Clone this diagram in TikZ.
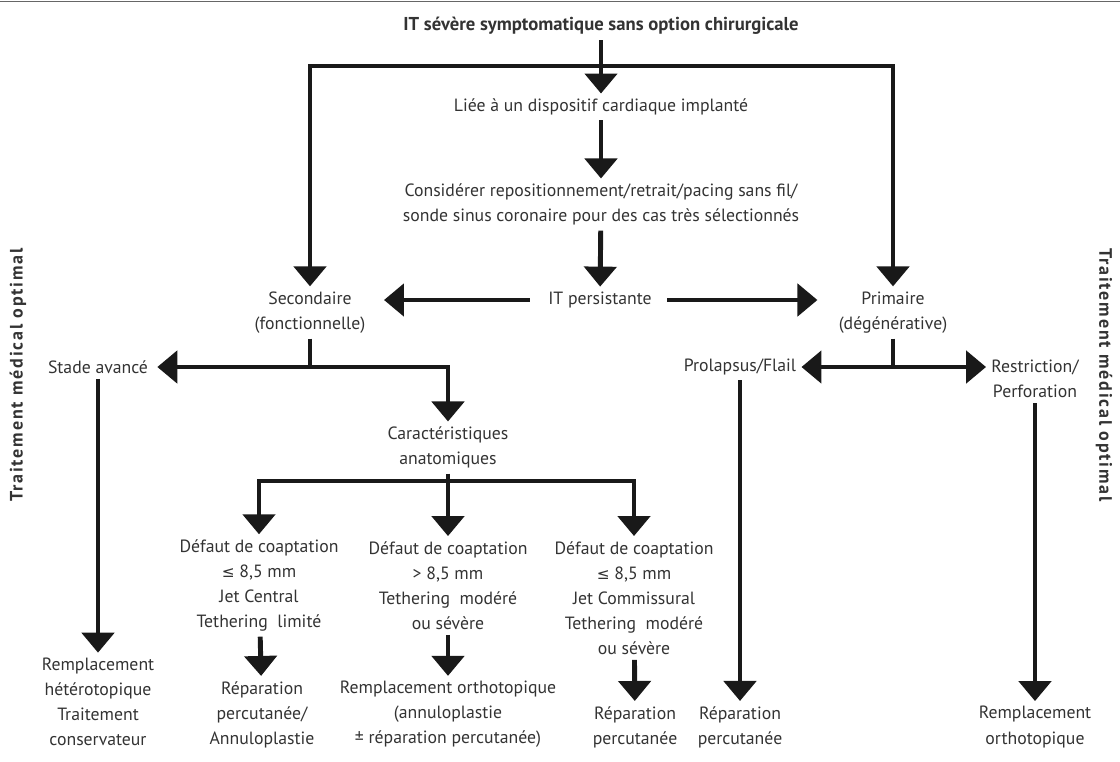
\documentclass[tikz,border=0pt]{standalone}
\usepackage{fontspec}
\setmainfont{PT Sans}
\newfontfamily\symf{DejaVu Sans}
\usetikzlibrary{arrows.meta}
\newcommand{\myle}{{\symf\fontsize{11.5}{12}\selectfont ≤}}
\begin{document}
\begin{tikzpicture}[x=0.75pt,y=-0.75pt,
  txt/.style={align=center, inner sep=0pt, outer sep=4pt, text=black!80,
    font=\fontsize{13.3}{18.8}\selectfont},
  bold/.style={txt, font=\fontsize{14}{18.8}\selectfont\bfseries},
  side/.style={txt, font=\fontsize{13.5}{18.8}\selectfont\bfseries\addfontfeature{LetterSpace=10}},
  ln/.style={line width=3.7pt, draw=black!90, line join=miter},
  arr/.style={ln, -{Triangle[width=24pt,length=15pt]}}]
\useasboundingbox (0,0) rectangle (1120,761);
\draw[black!60, line width=1.2pt] (0,1.5) -- (1120,1.5);

% nodes
\node[bold] (title) at (601,26) {IT sévère symptomatique sans option chirurgicale};
\node[txt] (liee) at (601,107) {Liée à un dispositif cardiaque implanté};
\node[txt] (cons) at (601,204.5) {Considérer repositionnement/retrait/pacing sans fil/\\sonde sinus coronaire pour des cas très sélectionnés};
\node[txt] (itp) at (600,300) {IT persistante};
\node[txt] (sec) at (310,312.5) {Secondaire\\(fonctionnelle)};
\node[txt] (prim) at (893,312.5) {Primaire\\(dégénérative)};
\node[txt] (stade) at (98,367) {Stade avancé};
\node[txt] (carac) at (448,447.5) {Caractéristiques\\anatomiques};
\node[txt] (prol) at (740,367) {Prolapsus/Flail};
\node[txt] (restr) at (1035,379) {Restriction/\\Perforation};
\node[txt] (d1) at (259,585.5) {Défaut de coaptation\\\myle\ 8,5 mm\\Jet Central\\Tethering\ \ limité};
\node[txt] (d2) at (448,585.5) {Défaut de coaptation\\> 8,5 mm\\Tethering\ \ modéré\\ou sévère};
\node[txt] (d3) at (634,598) {Défaut de coaptation\\\myle\ 8,5 mm\\Jet Commissural\\Tethering\ \ modéré\\ou sévère};
\node[txt] (r1) at (98,702) {Remplacement\\hétérotopique\\Traitement\\conservateur};
\node[txt] (p1) at (262,714.5) {Réparation\\percutanée/\\Annuloplastie};
\node[txt] (p2) at (448,714.5) {Remplacement orthotopique\\(annuloplastie\\± réparation percutanée)};
\node[txt] (p3) at (635,727) {Réparation\\percutanée};
\node[txt] (p4) at (740,727) {Réparation\\percutanée};
\node[txt] (p5) at (1035,727) {Remplacement\\orthotopique};
\node[side, rotate=90] (sl) at (18,375) {Traitement médical optimal};
\node[side, rotate=-90] (sr) at (1104,375) {Traitement médical optimal};

% coordinates
\coordinate (s0) at (601,66);
\coordinate (s1) at (310,367);
\coordinate (s2) at (448,481);
\coordinate (s3) at (893,367);

% connectors
\draw[arr] (title) -- (liee);
\draw[arr] (s0) -| (sec);
\draw[arr] (s0) -| (prim);
\draw[arr] (liee) -- (cons);
\draw[arr] (cons) -- (itp);
\draw[arr, shorten <=10pt, shorten >=10pt] (itp.west) -- (itp.west -| sec.east);
\draw[arr, shorten <=7.5pt, shorten >=12pt] (itp.east) -- (itp.east -| prim.west);
\draw[ln] (sec) -- (s1);
\draw[arr, shorten >=3pt] (s1) -- (stade);
\draw[arr] (s1) -| (carac);
\draw[arr] (stade) -- (r1);
\draw[ln] (carac) -- (s2);
\draw[arr] (s2) -| (d1);
\draw[arr] (s2) -- (d2);
\draw[arr] (s2) -| (d3);
\draw[arr] (d1) -- (p1);
\draw[arr] (d2) -- (p2);
\draw[arr] (d3) -- (p3);
\draw[ln] (prim) -- (s3);
\draw[arr] (s3) -- (prol);
\draw[arr] (s3) -- (s3 -| restr.west);
\draw[arr] (prol) -- (p4);
\draw[arr] (restr) -- (p5);
\end{tikzpicture}
\end{document}
